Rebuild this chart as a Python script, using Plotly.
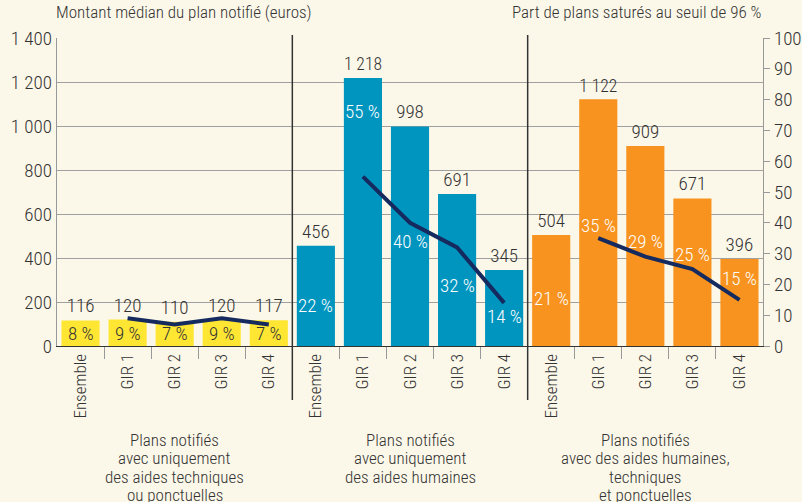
import plotly.graph_objects as go

categories = ["Ensemble", "GIR 1", "GIR 2", "GIR 3", "GIR 4"]
group_labels = [
    ["Plans notifiés", "avec uniquement", "des aides techniques", "ou ponctuelles"],
    ["Plans notifiés", "avec uniquement", "des aides humaines"],
    ["Plans notifiés", "avec des aides humaines,", "techniques", "et ponctuelles"],
]
montant_tech = [116, 120, 110, 120, 117]
montant_hum = [456, 1218, 998, 691, 345]
montant_mixte = [504, 1122, 909, 671, 396]
part_tech = [8, 9, 7, 9, 7]
part_hum = [22, 55, 40, 32, 14]
part_mixte = [21, 35, 29, 25, 15]

# style: vertical placement of percentage labels (left-axis units)
pct_label_pos = [
    [59, 59, 59, 59, 59],
    [186, 1064, 473, 277, 136],
    [214, 550, 473, 414, 309],
]
group_colors = ["#FFE633", "#0095BF", "#F7931E"]
pct_text_colors = ["#333333", "#FFFFFF", "#FFFFFF"]

FONT = "Roboto Condensed, Liberation Sans Narrow, sans-serif"
W = 300
BG = "#FCF8E9"
TXT = "#333333"

montants = [montant_tech, montant_hum, montant_mixte]
parts = [part_tech, part_hum, part_mixte]

n = len(categories)
fig = go.Figure()

xs, ys, colors, texts = [], [], [], []
for g, vals in enumerate(montants):
    for i, v in enumerate(vals):
        xs.append(g * n + i)
        ys.append(v)
        colors.append(group_colors[g])
        texts.append(f"{v:,}".replace(",", " "))

fig.add_trace(go.Bar(
    x=xs, y=ys, marker=dict(color=colors, line=dict(width=0)),
    text=texts, textposition="outside", cliponaxis=False,
    textfont=dict(family=FONT, size=19, color=TXT, weight=W),
    width=0.81, showlegend=False, hoverinfo="skip",
))

lx, ly = [], []
for g, vals in enumerate(parts):
    for i in range(1, n):
        lx.append(g * n + i)
        ly.append(vals[i])
    lx.append(None)
    ly.append(None)
fig.add_trace(go.Scatter(
    x=lx, y=ly, yaxis="y2", mode="lines",
    line=dict(color="#152A5E", width=4), showlegend=False, hoverinfo="skip",
    connectgaps=False,
))

annotations = []
for g, vals in enumerate(parts):
    for i, v in enumerate(vals):
        annotations.append(dict(
            x=g * n + i, y=pct_label_pos[g][i], xref="x", yref="y",
            text=f"{v} %", showarrow=False,
            font=dict(family=FONT, size=19, color=pct_text_colors[g], weight=W),
        ))
    for k, line in enumerate(group_labels[g]):
        annotations.append(dict(
            x=g * n + 2, y=-0.305, xref="x", yref="paper", yanchor="middle",
            yshift=-18.5 * k, text=line, showarrow=False, align="center",
            font=dict(family=FONT, size=17, color=TXT, weight=W),
        ))

annotations.append(dict(
    x=-0.004, y=1.045, xref="paper", yref="paper", xanchor="left", yanchor="bottom",
    text="Montant médian du plan notifié (euros)", showarrow=False,
    font=dict(family=FONT, size=17, color=TXT, weight=W),
))
annotations.append(dict(
    x=1.002, y=1.045, xref="paper", yref="paper", xanchor="right", yanchor="bottom",
    text="Part de plans saturés au seuil de 96 %", showarrow=False,
    font=dict(family=FONT, size=17, color=TXT, weight=W),
))

shapes = []
for g in range(1, len(montants)):
    shapes.append(dict(
        type="line", xref="x", yref="paper", x0=g * n - 0.5, x1=g * n - 0.5,
        y0=-0.175, y1=1.01, line=dict(color="#333333", width=1.5),
    ))

tickvals = list(range(n * len(montants)))
ticktext = categories * len(montants)

fig.update_layout(
    width=802, height=502,
    margin=dict(l=57, r=39, t=38, b=156, autoexpand=False),
    paper_bgcolor=BG, plot_bgcolor=BG,
    separators=", ",
    font=dict(family=FONT, size=17, color=TXT, weight=W),
    bargap=0.19,
    xaxis=dict(
        range=[-0.5, n * len(montants) - 0.5], automargin=False,
        tickmode="array", tickvals=tickvals, ticktext=ticktext,
        tickangle=-90, ticks="", showgrid=False, zeroline=False,
        showline=True, linecolor="#333333", linewidth=1.2,
        tickfont=dict(family=FONT, size=17, color=TXT, weight=W),
        minor=dict(tickmode="array", tickvals=[v + 0.5 for v in tickvals[:-1]],
                   ticks="outside", ticklen=12, tickcolor="#999999", tickwidth=1.2,
                   showgrid=False),
    ),
    yaxis=dict(
        range=[0, 1400], tickmode="array", automargin=False,
        tickvals=[0, 200, 400, 600, 800, 1000, 1200, 1400],
        tickformat=",d", showgrid=True, gridcolor="#A0A0A0", gridwidth=1,
        zeroline=False, showline=True, linecolor="#999999", linewidth=1.2,
        ticks="", tickfont=dict(family=FONT, size=19, color=TXT, weight=W),
    ),
    yaxis2=dict(
        range=[0, 100], overlaying="y", side="right", dtick=10, automargin=False,
        showgrid=False, zeroline=False, showline=True, linecolor="#999999",
        linewidth=1.2, ticks="outside", ticklen=6, tickcolor="#999999",
        tickfont=dict(family=FONT, size=19, color=TXT, weight=W),
    ),
    annotations=annotations,
    shapes=shapes,
)

fig.write_html(
    "out.html",
    config={"displayModeBar": False},
    post_script=f"document.body.style.margin='0';document.body.style.background='{BG}';",
)
